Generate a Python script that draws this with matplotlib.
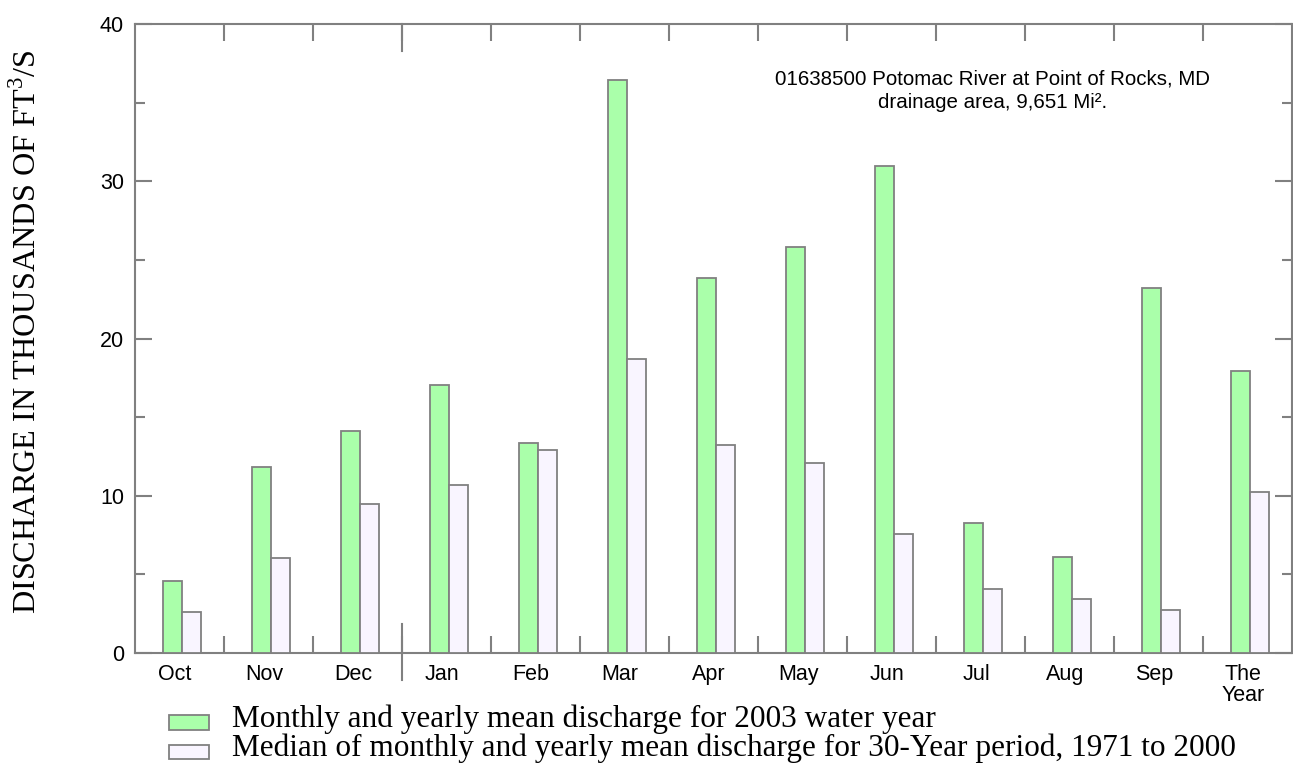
import matplotlib
matplotlib.use('Agg')
import numpy as np
from matplotlib import pyplot as plt
from matplotlib.patches import Patch, Rectangle
from matplotlib.legend_handler import HandlerPatch
from matplotlib.ticker import MultipleLocator

# Mean discharge, thousands of cubic feet per second
months = ['Oct', 'Nov', 'Dec', 'Jan', 'Feb', 'Mar', 'Apr', 'May', 'Jun', 'Jul', 'Aug', 'Sep', 'The\nYear']
mean_2003 = [4.6, 11.85, 14.15, 17.05, 13.35, 36.45, 23.85, 25.85, 31.0, 8.3, 6.1, 23.2, 17.95]
median_1971_2000 = [2.6, 6.05, 9.5, 10.7, 12.9, 18.7, 13.2, 12.1, 7.6, 4.1, 3.45, 2.75, 10.25]

station = '01638500 Potomac River at Point of Rocks, MD\ndrainage area, 9,651 Mi\u00b2.'
label_mean = 'Monthly and yearly mean discharge for 2003 water year'
label_median = 'Median of monthly and yearly mean discharge for 30-Year period, 1971 to 2000'

GREEN = '#aaffaa'
PALE = '#f9f5ff'
GREY = '#808080'
SANS = ['Liberation Sans', 'DejaVu Sans']
SERIF = ['Liberation Serif', 'DejaVu Serif']

plt.rcParams['font.family'] = SANS
plt.rcParams['mathtext.fontset'] = 'custom'
plt.rcParams['mathtext.rm'] = 'Liberation Serif'


def low_box(legend, orig_handle, xdescent, ydescent, width, height, fontsize):
    # legend swatch sitting a little below the text centre
    return Rectangle((-xdescent, -ydescent - 0.22 * fontsize), width, height)


fig = plt.figure(figsize=(12.93, 7.68), dpi=100)
ax = fig.add_axes([0.1044, 0.1497, 0.8948, 0.819])

x = np.arange(len(months))
w = 0.215
shift = 0.025
ax.bar(x + shift - w / 2, mean_2003, width=w, color=GREEN, edgecolor=GREY, linewidth=1.3, zorder=3)
ax.bar(x + shift + w / 2, median_1971_2000, width=w, color=PALE, edgecolor=GREY, linewidth=1.3, zorder=3)

ax.set_xlim(-0.5, len(months) - 0.5)
ax.set_ylim(0, 40)

for s in ax.spines.values():
    s.set_color(GREY)
    s.set_linewidth(1.5)

# month names sit between the boundary ticks
ax.set_xticks(x - 0.05)
ax.set_xticklabels(months, fontsize=15.5)
for lab in ax.get_xticklabels():
    lab.set_linespacing(1.0)
ax.tick_params(axis='x', which='major', length=0, pad=8)
ax.set_xticks(np.arange(len(months) - 1) + 0.5, minor=True)
ax.tick_params(axis='x', which='minor', direction='in', length=12, width=1.5,
               color=GREY, top=True, bottom=True)

ax.yaxis.set_major_locator(MultipleLocator(10))
ax.yaxis.set_minor_locator(MultipleLocator(5))
ax.tick_params(axis='y', which='major', direction='in', length=12, width=1.5,
               color=GREY, left=True, right=True, labelsize=15.5, pad=8)
ax.tick_params(axis='y', which='minor', direction='in', length=7, width=1.5,
               color=GREY, left=True, right=True)

# calendar-year break between Dec and Jan
ax.plot([2.5, 2.5], [-0.043, 0.046], transform=ax.get_xaxis_transform(),
        color=GREY, lw=1.5, clip_on=False, zorder=4)
ax.plot([2.5, 2.5], [0.957, 1.0], transform=ax.get_xaxis_transform(),
        color=GREY, lw=1.5, clip_on=False, zorder=4)

ax.text(0.741, 0.928, station, transform=ax.transAxes, ha='center', va='top',
        fontsize=14.75, linespacing=1.3, multialignment='center')

fig.text(0.021, 0.568, r'DISCHARGE IN THOUSANDS OF FT$^{\mathrm{3}}$/S', rotation=90,
         ha='center', va='center', fontsize=23.2, family=SERIF)

handles = [Patch(facecolor=GREEN, edgecolor=GREY, linewidth=1.3),
           Patch(facecolor=PALE, edgecolor=GREY, linewidth=1.3)]
fig.legend(handles, [label_mean, label_median], loc='upper left',
           bbox_to_anchor=(0.1307, 0.083), frameon=False,
           prop={'family': SERIF, 'size': 22.5}, borderpad=0, borderaxespad=0,
           handlelength=1.28, handleheight=0.33, handletextpad=0.74, labelspacing=0,
           handler_map={Patch: HandlerPatch(patch_func=low_box)})

fig.savefig('out.png', dpi=100)
